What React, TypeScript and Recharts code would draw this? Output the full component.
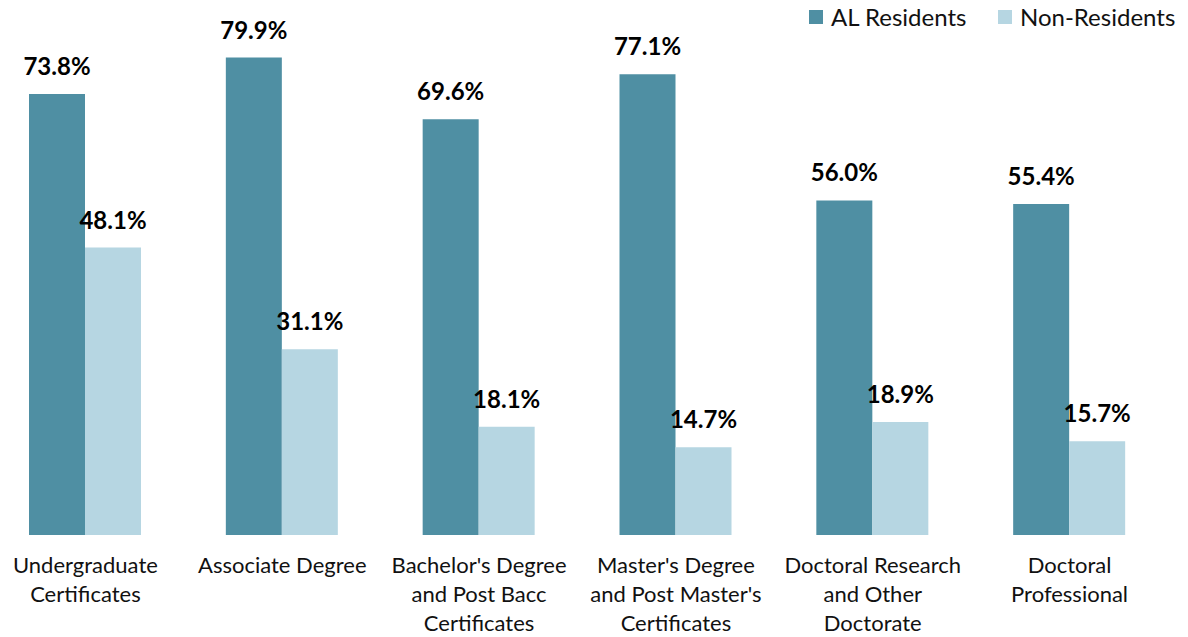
import { BarChart, Bar, XAxis, YAxis, Legend, LabelList } from 'recharts';

// categorias (cada rótulo já quebrado em linhas como no original)
const categories = [
  'Undergraduate Certificates',
  'Associate Degree',
  "Bachelor's Degree and Post Bacc Certificates",
  "Master's Degree and Post Master's Certificates",
  'Doctoral Research and Other Doctorate',
  'Doctoral Professional',
];

const tickLines: string[][] = [
  ['Undergraduate', 'Certificates'],
  ['Associate Degree'],
  ["Bachelor's Degree", 'and Post Bacc', 'Certificates'],
  ["Master's Degree", "and Post Master's", 'Certificates'],
  ['Doctoral Research', 'and Other', 'Doctorate'],
  ['Doctoral', 'Professional'],
];

const alResidents = [73.8, 79.9, 69.6, 77.1, 56.0, 55.4];
const nonResidents = [48.1, 31.1, 18.1, 14.7, 18.9, 15.7];

const DARK = '#4F8FA3';
const LIGHT = '#B6D6E2';
const FONT = 'Lato, "Open Sans", sans-serif';

const data = categories.map((name, i) => ({
  name,
  al: alResidents[i],
  non: nonResidents[i],
}));

function CategoryTick(props: any) {
  const { x, y, index } = props;
  const lines = tickLines[index] ?? [props.payload?.value];
  return (
    <text x={x} y={y} textAnchor="middle" fontFamily={FONT} fontSize={22} fill="#111">
      {lines.map((line, i) => (
        <tspan key={i} x={x} y={y + 38 + i * 29}>
          {line}
        </tspan>
      ))}
    </text>
  );
}

function ValueLabel(props: any) {
  const { x, y, width, value } = props;
  return (
    <text
      x={Number(x) + Number(width) / 2}
      y={Number(y) - 19}
      textAnchor="middle"
      fontFamily={FONT}
      fontWeight={700}
      fontSize={24}
      fill="#000"
    >
      {Number(value).toFixed(1)}%
    </text>
  );
}

function LegendContent() {
  const items = [
    { label: 'AL Residents', color: DARK },
    { label: 'Non-Residents', color: LIGHT },
  ];
  return (
    <div style={{ display: 'flex', fontFamily: FONT, fontSize: 24, color: '#111' }}>
      {items.map((it) => (
        <div key={it.label} style={{ display: 'flex', alignItems: 'center', width: 189, whiteSpace: 'nowrap' }}>
          <span style={{ width: 14, height: 14, background: it.color, marginRight: 8, display: 'inline-block', flexShrink: 0 }} />
          <span style={{ lineHeight: '22px' }}>{it.label}</span>
        </div>
      ))}
    </div>
  );
}

export default function App() {
  return (
    <div style={{ position: 'absolute', left: -13, top: 0, width: 1201, height: 637 }}>
      <BarChart
        width={1201}
        height={637}
        data={data}
        margin={{ top: 57, right: 20, bottom: 0, left: 0 }}
        barCategoryGap={42}
        barGap={0}
      >
        <XAxis
          dataKey="name"
          height={102}
          axisLine={false}
          tickLine={false}
          tickSize={0}
          tickMargin={0}
          interval={0}
          tick={<CategoryTick />}
        />
        <YAxis hide domain={[0, 80]} />
        <Legend
          layout="horizontal"
          verticalAlign="middle"
          align="center"
          content={<LegendContent />}
          wrapperStyle={{ top: 6, left: 822, width: 390, height: 24 }}
        />
        <Bar dataKey="al" name="AL Residents" fill={DARK} isAnimationActive={false}>
          <LabelList dataKey="al" content={<ValueLabel />} />
        </Bar>
        <Bar dataKey="non" name="Non-Residents" fill={LIGHT} isAnimationActive={false}>
          <LabelList dataKey="non" content={<ValueLabel />} />
        </Bar>
      </BarChart>
    </div>
  );
}
